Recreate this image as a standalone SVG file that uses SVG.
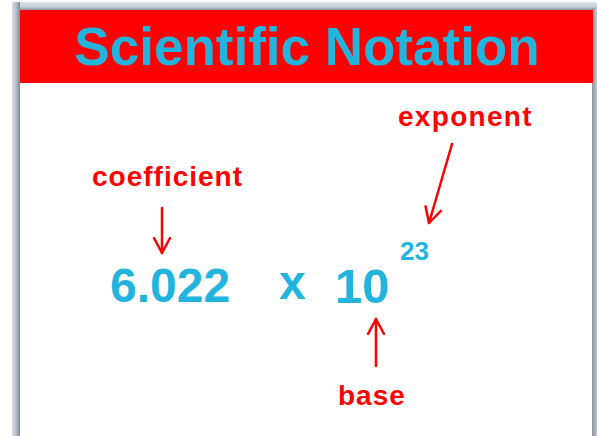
<svg xmlns="http://www.w3.org/2000/svg" width="597" height="436" viewBox="0 0 597 436">
  <defs>
    <linearGradient id="gLeft" x1="0" y1="0" x2="1" y2="0">
      <stop offset="0" stop-color="#d6dce8"/>
      <stop offset="0.5" stop-color="#b8c0cf"/>
      <stop offset="1" stop-color="#7f8797"/>
    </linearGradient>
    <linearGradient id="gTop" x1="0" y1="0" x2="0" y2="1">
      <stop offset="0" stop-color="#dde2ec"/>
      <stop offset="0.6" stop-color="#c6cdda"/>
      <stop offset="1" stop-color="#8d95a5"/>
    </linearGradient>
    <linearGradient id="gRight" x1="0" y1="0" x2="1" y2="0">
      <stop offset="0" stop-color="#8c929e"/>
      <stop offset="1" stop-color="#c3c8d2"/>
    </linearGradient>
    <marker id="head" viewBox="-18 -10 20 20" refX="0" refY="0" markerWidth="20" markerHeight="20" markerUnits="userSpaceOnUse" orient="auto">
      <path d="M-15,-8 L0,0 L-15,8" fill="none" stroke="#ff0000" stroke-width="2.5" stroke-linecap="round" stroke-linejoin="round"/>
    </marker>
    <style>
      .label { font-family: "Liberation Sans", Arial, sans-serif; font-weight: bold; fill: #ff0000; font-size: 28px; letter-spacing: 1px; }
      .num { font-family: "Liberation Sans", Arial, sans-serif; font-weight: bold; fill: #22b4dd; }
      .arrow { fill: none; stroke: #ff0000; stroke-width: 2.5; stroke-linecap: round; marker-end: url(#head); }
    </style>
  </defs>

  <g id="frame">
    <rect x="0" y="0" width="597" height="436" fill="#ffffff"/>
    <rect x="12" y="2" width="585" height="8" fill="url(#gTop)"/>
    <rect x="12" y="2" width="8" height="434" fill="url(#gLeft)"/>
    <rect x="592" y="8" width="5" height="428" fill="url(#gRight)"/>
    <rect x="20" y="10" width="572" height="426" fill="#ffffff"/>
  </g>

  <g id="title">
    <rect x="20" y="10" width="573" height="73" fill="#ff0000"/>
    <text x="307" y="65" text-anchor="middle" class="num" font-size="53">Scientific Notation</text>
  </g>

  <g id="coefficient-label">
    <text x="92" y="186" class="label">coefficient</text>
  </g>
  <g id="exponent-label">
    <text x="398" y="126" class="label" style="letter-spacing:1.3px">exponent</text>
  </g>
  <g id="base-label">
    <text x="338" y="405" class="label">base</text>
  </g>

  <g id="coefficient">
    <text x="110" y="302" class="num" font-size="48">6.022</text>
  </g>
  <g id="times">
    <text x="279" y="299" class="num" font-size="48">x</text>
  </g>
  <g id="base">
    <text x="335" y="303" class="num" font-size="49">10</text>
  </g>
  <g id="exponent">
    <text x="400" y="260" class="num" font-size="26">23</text>
  </g>

  <g id="connectors">
    <path class="arrow" d="M162,208 L162,253"/>
    <path class="arrow" d="M452,144 L429,223"/>
    <path class="arrow" d="M376,366 L376,319"/>
  </g>
</svg>
